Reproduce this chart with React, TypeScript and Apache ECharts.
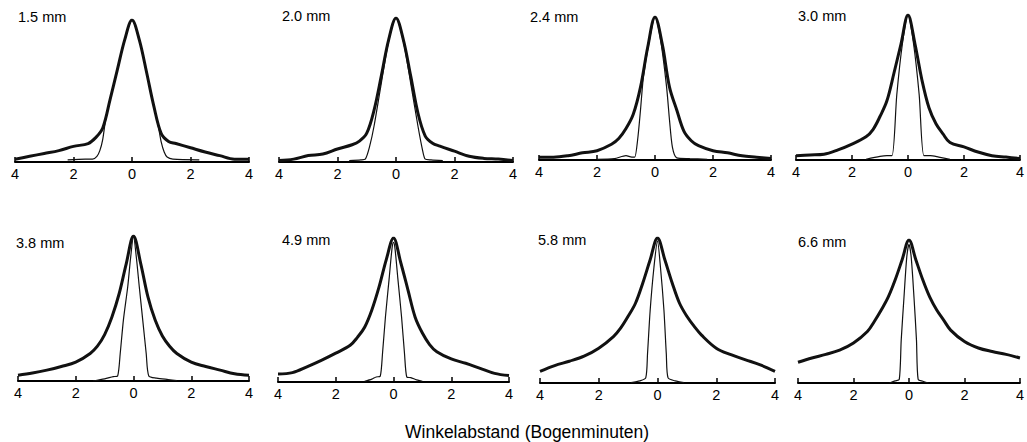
import React, { useEffect, useRef } from "react";
import * as echarts from "echarts";

// Winkelabstand in Bogenminuten, shared sampling for the broad (measured) profiles
const xs = [-4, -3.5, -3, -2.5, -2, -1.5, -1.25, -1, -0.75, -0.5, -0.25, 0, 0.25, 0.5, 0.75, 1, 1.25, 1.5, 2, 2.5, 3, 3.5, 4];

// Pupillendurchmesser je Teilbild
const pupilLabels = ["1.5 mm", "2.0 mm", "2.4 mm", "3.0 mm", "3.8 mm", "4.9 mm", "5.8 mm", "6.6 mm"];

// Gemessene Linienbildfunktionen (normiert auf das Maximum)
const measured15 = [0.02, 0.04, 0.06, 0.08, 0.11, 0.13, 0.17, 0.24, 0.44, 0.65, 0.86, 1, 0.86, 0.63, 0.39, 0.2, 0.145, 0.13, 0.1, 0.07, 0.045, 0.02, 0.02];
const measured20 = [0.01, 0.02, 0.045, 0.055, 0.09, 0.12, 0.145, 0.2, 0.36, 0.6, 0.85, 1, 0.85, 0.6, 0.34, 0.18, 0.13, 0.11, 0.075, 0.04, 0.025, 0.02, 0.01];
const measured24 = [0.02, 0.02, 0.03, 0.05, 0.065, 0.11, 0.15, 0.22, 0.32, 0.51, 0.79, 1, 0.81, 0.51, 0.35, 0.2, 0.135, 0.1, 0.065, 0.05, 0.03, 0.02, 0.01];
const measured30 = [0.03, 0.035, 0.04, 0.07, 0.11, 0.16, 0.21, 0.3, 0.41, 0.6, 0.8, 1, 0.8, 0.55, 0.36, 0.25, 0.18, 0.12, 0.09, 0.055, 0.03, 0.02, 0.01];
const measured38 = [0.04, 0.055, 0.075, 0.1, 0.13, 0.19, 0.24, 0.32, 0.44, 0.6, 0.81, 1, 0.81, 0.58, 0.42, 0.31, 0.24, 0.19, 0.13, 0.1, 0.075, 0.05, 0.04];
const measured49 = [0.055, 0.065, 0.105, 0.15, 0.2, 0.255, 0.31, 0.38, 0.5, 0.66, 0.85, 1, 0.83, 0.64, 0.45, 0.34, 0.26, 0.21, 0.16, 0.13, 0.095, 0.06, 0.045];
const measured58 = [0.08, 0.12, 0.15, 0.185, 0.24, 0.32, 0.38, 0.46, 0.55, 0.69, 0.85, 1, 0.85, 0.69, 0.55, 0.46, 0.39, 0.33, 0.24, 0.195, 0.16, 0.125, 0.08];
const measured66 = [0.145, 0.175, 0.2, 0.23, 0.28, 0.36, 0.43, 0.51, 0.6, 0.72, 0.86, 1, 0.86, 0.72, 0.6, 0.51, 0.44, 0.37, 0.29, 0.245, 0.22, 0.2, 0.175];

// Beugungsbegrenzte Profile als [Winkel, Wert]
const diffraction15 = [[-2.2, 0.015], [-1.6, 0.02], [-1.35, 0.02], [-1.2, 0.04], [-1.1, 0.08], [-1.0, 0.16], [-0.9, 0.3], [-0.75, 0.44], [-0.5, 0.65], [-0.25, 0.86], [0, 1], [0.25, 0.86], [0.5, 0.63], [0.75, 0.39], [0.9, 0.25], [1.0, 0.14], [1.1, 0.07], [1.2, 0.035], [1.4, 0.02], [2.3, 0.015]];
const diffraction20 = [[-1.6, 0.01], [-1.2, 0.015], [-1.05, 0.02], [-0.9, 0.11], [-0.75, 0.25], [-0.5, 0.55], [-0.25, 0.84], [0, 1], [0.25, 0.84], [0.5, 0.55], [0.75, 0.25], [0.9, 0.09], [1.0, 0.02], [1.2, 0.015], [1.6, 0.01]];
const diffraction24 = [[-2.0, 0.005], [-1.4, 0.01], [-1.0, 0.03], [-0.8, 0.02], [-0.7, 0.02], [-0.6, 0.14], [-0.5, 0.35], [-0.4, 0.58], [-0.2, 0.83], [0, 1], [0.2, 0.83], [0.4, 0.51], [0.5, 0.28], [0.6, 0.09], [0.75, 0.015], [1.2, 0.01], [1.8, 0.005]];
const diffraction30 = [[-1.5, 0.005], [-1.0, 0.025], [-0.75, 0.03], [-0.57, 0.03], [-0.4, 0.45], [-0.2, 0.8], [0, 1], [0.2, 0.8], [0.4, 0.45], [0.57, 0.03], [0.8, 0.03], [1.1, 0.02], [1.5, 0.005]];
const diffraction38 = [[-1.4, 0], [-1, 0.015], [-0.7, 0.03], [-0.55, 0.035], [-0.46, 0.19], [-0.35, 0.42], [-0.2, 0.65], [-0.1, 0.85], [0, 1], [0.1, 0.85], [0.2, 0.65], [0.32, 0.42], [0.44, 0.19], [0.53, 0.035], [0.8, 0.02], [1.2, 0.01], [1.5, 0.003]];
const diffraction49 = [[-1.0, 0.005], [-0.75, 0.02], [-0.6, 0.035], [-0.46, 0.04], [-0.38, 0.2], [-0.28, 0.45], [-0.15, 0.72], [-0.05, 0.93], [0, 0.97], [0.05, 0.93], [0.15, 0.72], [0.28, 0.45], [0.38, 0.2], [0.46, 0.035], [0.6, 0.03], [0.8, 0.015], [1.0, 0.005]];
const diffraction58 = [[-0.9, 0.003], [-0.6, 0.015], [-0.4, 0.035], [-0.34, 0.2], [-0.25, 0.5], [-0.12, 0.8], [0, 0.98], [0.1, 0.8], [0.22, 0.5], [0.3, 0.2], [0.36, 0.035], [0.6, 0.015], [0.9, 0.003]];
const diffraction66 = [[-0.7, 0], [-0.5, 0.015], [-0.35, 0.025], [-0.28, 0.3], [-0.18, 0.6], [-0.08, 0.88], [0, 0.97], [0.08, 0.88], [0.18, 0.6], [0.27, 0.3], [0.33, 0.025], [0.5, 0.012], [0.7, 0]];

const measuredSets = [measured15, measured20, measured24, measured30, measured38, measured49, measured58, measured66];
const diffractionSets = [diffraction15, diffraction20, diffraction24, diffraction30, diffraction38, diffraction49, diffraction58, diffraction66];

// Lage der acht Teilbilder (Pixel)
const panelBoxes = [
  { left: 15, top: 20, width: 234, height: 142 },
  { left: 279, top: 18, width: 234, height: 144 },
  { left: 539, top: 17, width: 232, height: 143 },
  { left: 796, top: 15, width: 235, height: 145 },
  { left: 18, top: 236, width: 231, height: 145 },
  { left: 278, top: 238, width: 231, height: 144 },
  { left: 540, top: 238, width: 235, height: 145 },
  { left: 798, top: 240, width: 231, height: 143 },
];
const labelPos = [
  [18, 9], [282, 8], [530, 9], [798, 8],
  [16, 235], [282, 232], [538, 232], [798, 234],
];

const FONT = "'Liberation Sans', Arial, sans-serif";

export default function App() {
  const ref = useRef<HTMLDivElement>(null);

  useEffect(() => {
    if (!ref.current) return;
    const chart = echarts.init(ref.current, undefined, { renderer: "svg" });

    const series: any[] = [];
    measuredSets.forEach((vals, i) => {
      series.push({
        type: "line",
        xAxisIndex: i,
        yAxisIndex: i,
        data: xs.map((x, k) => [x, vals[k]]),
        smooth: 0.35,
        showSymbol: false,
        lineStyle: { color: "#111", width: 3 },
        z: 3,
      });
      series.push({
        type: "line",
        xAxisIndex: i,
        yAxisIndex: i,
        data: diffractionSets[i],
        smooth: 0.25,
        showSymbol: false,
        lineStyle: { color: "#111", width: 1.2 },
        z: 4,
      });
    });

    chart.setOption({
      animation: false,
      backgroundColor: "#fff",
      grid: panelBoxes.map((b) => ({ ...b, containLabel: false })),
      xAxis: panelBoxes.map((_, i) => ({
        gridIndex: i,
        type: "value",
        min: -4,
        max: 4,
        interval: 2,
        axisLine: { show: true, onZero: false, lineStyle: { color: "#000", width: 2 } },
        axisTick: { show: true, inside: true, length: 5, lineStyle: { color: "#000", width: 1.5 } },
        axisLabel: {
          formatter: (v: number) => String(Math.abs(v)),
          color: "#000",
          fontSize: 14.5,
          fontFamily: FONT,
          margin: 4,
          showMinLabel: true,
          showMaxLabel: true,
        },
        splitLine: { show: false },
      })),
      yAxis: panelBoxes.map((_, i) => ({
        gridIndex: i,
        type: "value",
        min: 0,
        max: 1,
        show: false,
      })),
      series,
      graphic: [
        ...pupilLabels.map((t, i) => ({
          type: "text",
          left: labelPos[i][0],
          top: labelPos[i][1],
          style: { text: t, font: `14.5px ${FONT}`, fill: "#000" },
        })),
        {
          type: "text",
          left: 405,
          top: 423,
          style: { text: "Winkelabstand (Bogenminuten)", font: `17.5px ${FONT}`, fill: "#000" },
        },
      ],
    });

    return () => chart.dispose();
  }, []);

  return (
    <div
      ref={ref}
      style={{ position: "fixed", left: 0, top: 0, width: 1027, height: 442, background: "#fff" }}
    />
  );
}
